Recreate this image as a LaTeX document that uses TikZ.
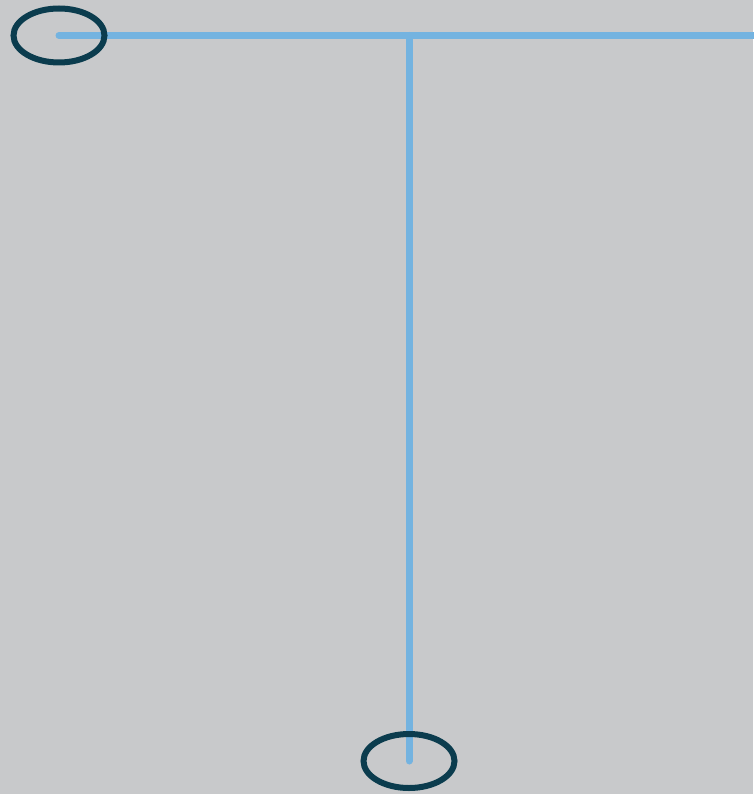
\documentclass[tikz,border=0pt]{standalone}
\usetikzlibrary{shapes.geometric,backgrounds}
\definecolor{bgc}{HTML}{C8C9CB}
\definecolor{wire}{HTML}{74B3E0}
\definecolor{ring}{HTML}{0B3C4E}
\begin{document}
\begin{tikzpicture}[x=1pt,y=-1pt,
  ringnode/.style={ellipse,draw=ring,line width=6pt,minimum width=91pt,minimum height=54pt,inner sep=0pt},
  wireline/.style={draw=wire,line width=7pt,line cap=round}]
\useasboundingbox (0,0) rectangle (753,794);
\node[ringnode] (a) at (59,35.5) {};
\node[ringnode] (b) at (409,761) {};
\coordinate (j) at (409,35.5);
\coordinate (r) at (760,35.5);
\begin{pgfonlayer}{background}
\fill[bgc] (0,0) rectangle (753,794);
\draw[wireline] (a.center) -- (j) -- (r);
\draw[wireline] (j) -- (b.center);
\end{pgfonlayer}
\end{tikzpicture}
\end{document}
